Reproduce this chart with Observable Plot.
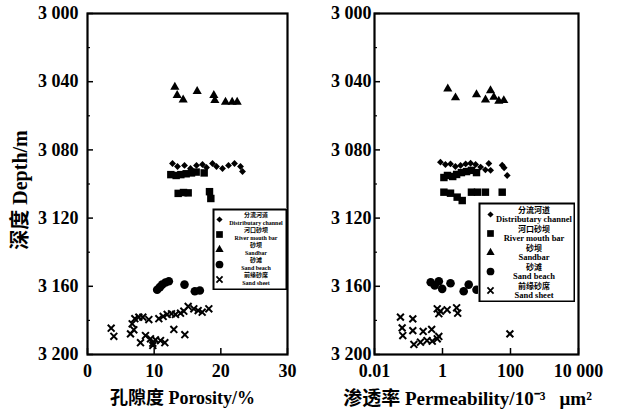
<!DOCTYPE html>
<html><head><meta charset="utf-8">
<script src="https://cdn.jsdelivr.net/npm/d3@7"></script>
<script src="https://cdn.jsdelivr.net/npm/@observablehq/plot@0.6"></script>
<style>
body{margin:0;background:#fff;}
#chart{position:relative;width:621px;height:416px;overflow:hidden;background:#fff;}
#chart > svg{position:absolute;}
</style></head><body><div id="chart"></div>
<script>
// ---------- data ----------
const faciesZh = ["分流河道", "河口砂坝", "砂坝", "砂滩", "前缘砂席"];
const faciesEn = ["Distributary channel", "River mouth bar", "Sandbar", "Sand beach", "Sand sheet"];

const depthTicks = [3000, 3040, 3080, 3120, 3160, 3200];
const depthMinorTicks = [3020, 3060, 3100, 3140, 3180];
const porosityTicks = [0, 10, 20, 30];
const permTicks = [0.01, 1, 100, 10000];

// Porosity panel
const poroChannel = [12.75, 13.5, 14.55, 15.45, 16.35, 17.25, 17.85, 18.75, 19.35, 20.25, 21.15, 22.05, 22.95, 23.25];
const poroChannelDepth = [3088, 3089.7, 3089.1, 3090.9, 3089.1, 3088.6, 3090.3, 3088, 3089.7, 3090.9, 3089.1, 3088, 3089.7, 3092.7];
const poroMouthBar = [12.5, 13.3, 14.0, 14.8, 15.6, 16.3, 17.5, 13.6, 14.4, 15.1, 18.3, 18.5];
const poroMouthBarDepth = [3094.5, 3095, 3094.5, 3094, 3093.5, 3093, 3093.5, 3105.5, 3105, 3105.2, 3104.5, 3108.5];
const poroSandbar = [13.1, 13.45, 14.35, 16.45, 18.95, 19.1, 20.7, 21.7, 22.45];
const poroSandbarDepth = [3043.2, 3048, 3050.6, 3045.6, 3048, 3051, 3052, 3052, 3052];
const poroBeach = [10.45, 10.85, 11.2, 11.7, 12.2, 14.55, 16.1, 16.85];
const poroBeachDepth = [3162, 3160.5, 3159, 3157.8, 3157, 3159, 3162.9, 3162.5];
const poroSheet = [3.55, 3.95, 6.45, 6.95, 6.7, 7.1, 7.7, 8.3, 9.2, 10.7, 11.35, 11.95, 12.6, 13.2, 13.95, 14.45, 15.1, 15.95, 16.6, 17.2, 18.2, 12.95, 14.6, 8.7, 7.95, 9.45, 9.8, 10.2, 10.95, 11.6, 9.8];
const poroSheetDepth = [3184.6, 3189.3, 3187.9, 3185.5, 3182, 3179, 3178.1, 3178.1, 3179.5, 3179, 3177.7, 3176.5, 3176.1, 3176.5, 3175.8, 3174.6, 3171.8, 3173.2, 3174.2, 3175.2, 3173.2, 3185.3, 3188.4, 3188.9, 3193.1, 3190.8, 3193.4, 3191.4, 3191.8, 3193.1, 3194.7];

// Permeability panel
const permChannel = [0.87, 1.22, 1.72, 2.4, 3.4, 4.8, 6.7, 9.4, 13.2, 18.3, 23, 26, 57, 65, 80];
const permChannelDepth = [3087.2, 3088.6, 3088.2, 3089.7, 3089.1, 3088.2, 3087.8, 3088.6, 3090.1, 3091.7, 3088, 3092, 3089, 3090.5, 3095];
const permMouthBar = [1.1, 1.4, 2.0, 2.6, 3.6, 5.1, 7.1, 10, 1.1, 1.72, 2.7, 3.8, 7.1, 10.7, 18.3, 57];
const permMouthBarDepth = [3096.2, 3095, 3095.6, 3094.4, 3093.3, 3092.7, 3092, 3093.3, 3104.8, 3105.4, 3107.7, 3109.7, 3104.8, 3104.8, 3104.8, 3104.8];
const permSandbar = [1.43, 2.41, 10, 18.4, 25.8, 32.4, 45.3, 63.5];
const permSandbarDepth = [3044.2, 3049.4, 3047.5, 3050.6, 3045.2, 3049.1, 3051.4, 3051];
const permBeach = [0.45, 0.59, 0.78, 0.98, 1.72, 4.2, 5.9, 10];
const permBeachDepth = [3157.6, 3159.5, 3157, 3161.5, 3158.2, 3162.9, 3159, 3162];
const permSheet = [0.058, 0.134, 0.065, 0.068, 0.134, 0.27, 0.48, 0.144, 0.225, 0.35, 0.50, 0.70, 0.78, 0.70, 0.78, 0.87, 1.37, 2.6, 2.8, 96];
const permSheetDepth = [3178.1, 3179.1, 3184.4, 3188.9, 3186, 3186.5, 3185.3, 3194.1, 3192.8, 3191.8, 3192.2, 3190.8, 3189.4, 3173.2, 3176.1, 3174.6, 3173.8, 3172.6, 3175.8, 3187.9];

// ---------- drawing ----------
const FONT = '"Liberation Serif","Times New Roman","Noto Sans CJK SC",serif';
const symbolOf = ["diamond2", "square", "triangle", "circle", "times"];
const sizeOf = [3.1, 4.2, 3.4, 4.3, 3.2];

const rows = (xs, ys) => xs.map((x, i) => ({x, depth: ys[i]}));
const fmt = d => { const s = String(d); return s.length > 3 && !s.includes(".") ? s.slice(0, -3) + " " + s.slice(-3) : s; };

function dotsFor(i, data) {
  const sym = symbolOf[i];
  if (sym === "times") return Plot.dot(data, {x: "x", y: "depth", symbol: sym, r: sizeOf[i], stroke: "black", strokeWidth: 2, fill: "none"});
  return Plot.dot(data, {x: "x", y: "depth", symbol: sym, r: sizeOf[i], fill: "black", stroke: "none"});
}

function panel({left, width, marginLeft, marginRight, xOpts, xTicks, series, yLabel, xLabel, xLabelDx, xLabelSize, yPad}) {
  const marginTop = 13, marginBottom = 62, height = 416;
  const fw = width - marginLeft - marginRight, fh = height - marginTop - marginBottom;
  const marks = [
    Plot.tickY(depthTicks, {y: d => d, insetRight: fw - 6, stroke: "black", strokeWidth: 1.5}),
    Plot.tickY(depthMinorTicks, {y: d => d, insetRight: fw - 3, stroke: "black", strokeWidth: 1.2}),
    Plot.tickX(xTicks, {x: d => d, insetTop: fh - 6, stroke: "black", strokeWidth: 1.5}),
    Plot.axisY(depthTicks, {tickSize: 0, tickPadding: yPad, tickFormat: fmt, label: null, fontSize: 18, fontWeight: "bold"}),
    Plot.axisX(xTicks, {tickSize: 0, tickPadding: 10, tickFormat: fmt, label: null, fontSize: 18, fontWeight: "bold"}),
    ...series.map((s, i) => dotsFor(i, s)),
    Plot.frame({stroke: "black", strokeWidth: 2.2}),
    Plot.text([xLabel], {text: d => d, frameAnchor: "bottom", textAnchor: "middle", lineAnchor: "middle", dy: 44, dx: xLabelDx, fontSize: xLabelSize, fontWeight: "bold"})
  ];
  if (yLabel) marks.push(Plot.text([yLabel], {text: d => d, frameAnchor: "left", textAnchor: "middle", lineAnchor: "middle", dx: -67, dy: 6, rotate: -90, fontSize: 20, fontWeight: "bold"}));
  const svg = Plot.plot({
    width, height, marginLeft, marginRight, marginTop, marginBottom,
    x: xOpts,
    y: {domain: [3000, 3200], reverse: true},
    style: {fontFamily: FONT, background: "transparent", color: "black", overflow: "visible"},
    marks
  });
  svg.style.left = left + "px"; svg.style.top = "0px";
  return svg;
}

function legend({left, top, width, height, inset, symDx, textDx, zhDy, enDy, fontSize, zhSize, symScale}) {
  const items = faciesEn.map((en, i) => ({en, zh: faciesZh[i], i}));
  const svg = Plot.plot({
    width, height, margin: 0,
    x: {domain: [0, 1], axis: null},
    y: {type: "point", domain: faciesEn, padding: 0, insetTop: inset, insetBottom: inset, axis: null},
    style: {fontFamily: FONT, background: "white", color: "black"},
    marks: [
      Plot.frame({stroke: "black", strokeWidth: 2, inset: 1, fill: "white"}),
      ...items.map(d => {
        const sym = symbolOf[d.i], r = sizeOf[d.i] * symScale;
        return sym === "times"
          ? Plot.dot([d], {y: "en", symbol: sym, r, stroke: "black", strokeWidth: 1.8, fill: "none", frameAnchor: "left", dx: symDx})
          : Plot.dot([d], {y: "en", symbol: sym, r, fill: "black", frameAnchor: "left", dx: symDx});
      }),
      Plot.text(items, {y: "en", text: "zh", frameAnchor: "middle", textAnchor: "middle", dx: textDx, dy: zhDy, fontSize: zhSize, fontWeight: "bold", fontFamily: '"Noto Sans CJK SC",sans-serif'}),
      Plot.text(items, {y: "en", text: "en", frameAnchor: "middle", textAnchor: "middle", dx: textDx, dy: enDy, fontSize, fontWeight: "bold"})
    ]
  });
  svg.style.left = left + "px"; svg.style.top = top + "px";
  return svg;
}

const chart = document.getElementById("chart");

chart.append(panel({
  left: 0, width: 300, marginLeft: 87, marginRight: 13,
  xOpts: {domain: [0, 30]}, xTicks: porosityTicks,
  series: [rows(poroChannel, poroChannelDepth), rows(poroMouthBar, poroMouthBarDepth), rows(poroSandbar, poroSandbarDepth), rows(poroBeach, poroBeachDepth), rows(poroSheet, poroSheetDepth)],
  yLabel: "深度 Depth/m", xLabel: "孔隙度 Porosity/%", xLabelDx: -5, xLabelSize: 18, yPad: 9
}));

chart.append(panel({
  left: 290, width: 331, marginLeft: 84, marginRight: 43,
  xOpts: {type: "log", domain: [0.01, 10000]}, xTicks: permTicks,
  series: [rows(permChannel, permChannelDepth), rows(permMouthBar, permMouthBarDepth), rows(permSandbar, permSandbarDepth), rows(permBeach, permBeachDepth), rows(permSheet, permSheetDepth)],
  yLabel: null, xLabel: "渗透率 Permeability/10⁻³   μm²", xLabelDx: -9, xLabelSize: 19, yPad: 3
}));

chart.append(legend({left: 212, top: 208, width: 75, height: 82, inset: 10, symDx: 7, textDx: 6, zhDy: -4, enDy: 4, fontSize: 6, zhSize: 6, symScale: 0.9}));
chart.append(legend({left: 478, top: 202, width: 97, height: 100, inset: 11, symDx: 12, textDx: 7, zhDy: -4.5, enDy: 4.5, fontSize: 8.5, zhSize: 8, symScale: 0.9}));
</script></body></html>
